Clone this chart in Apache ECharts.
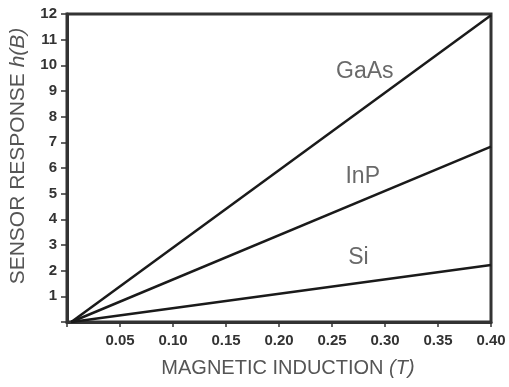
<!doctype html>
<html>
<head>
<meta charset="UTF-8">
<title>Sensor response</title>
<script src="https://cdn.jsdelivr.net/npm/echarts@6/dist/echarts.min.js"></script>
<style>
  html, body { margin: 0; padding: 0; background: #fff; }
  #chart { width: 509px; height: 387px; }
</style>
</head>
<body>
<div id="chart"></div>
<script>
// magnetic induction (T)
var fieldB = [0.004, 0.40];
// sensor response per material
var gaasVals = [0, 11.95];
var inpVals = [0, 6.83];
var siVals = [0, 2.22];
// where the material names sit (x, y in data units)
var labelNames = ['GaAs', 'InP', 'Si'];
var labelPos = [[0.281, 9.74], [0.279, 5.65], [0.275, 2.49]];

function pairs(xs, ys) {
  var out = [];
  for (var i = 0; i < xs.length; i++) out.push([xs[i], ys[i]]);
  return out;
}

var lineStyle = { color: '#1a1a1a', width: 2.5 };

var chart = echarts.init(document.getElementById('chart'));
chart.setOption({
  animation: false,
  grid: {
    left: 66, right: 18, top: 14, bottom: 65,
    show: true, borderColor: '#333', borderWidth: 3, backgroundColor: 'transparent'
  },
  xAxis: {
    type: 'value', min: 0, max: 0.4, interval: 0.05,
    name: '{n|MAGNETIC INDUCTION }{i|(T)}',
    nameLocation: 'middle', nameGap: 36,
    nameTextStyle: {
      padding: [0, 0, 0, 18],
      rich: {
        n: { fontFamily: 'Liberation Sans', fontSize: 20, color: '#555' },
        i: { fontFamily: 'Liberation Sans', fontSize: 20, color: '#555', fontStyle: 'italic' }
      }
    },
    axisLine: { lineStyle: { color: '#333', width: 3 } },
    axisTick: { show: true, length: 5, lineStyle: { color: '#333', width: 1.5 } },
    axisLabel: {
      fontFamily: 'Liberation Sans', fontSize: 15, fontWeight: 'bold', color: '#333', margin: 11,
      formatter: function (v) { return v === 0 ? '' : v.toFixed(2); }
    },
    splitLine: { show: false }
  },
  yAxis: {
    type: 'value', min: 0, max: 12, interval: 1,
    name: '{n|SENSOR RESPONSE }{i|h(B)}',
    nameLocation: 'middle', nameGap: 38, nameRotate: 90,
    nameTextStyle: {
      padding: [0, 0, 0, 24],
      rich: {
        n: { fontFamily: 'Liberation Sans', fontSize: 21, color: '#555' },
        i: { fontFamily: 'Liberation Sans', fontSize: 21, color: '#555', fontStyle: 'italic' }
      }
    },
    axisLine: { lineStyle: { color: '#333', width: 3 } },
    axisTick: { show: true, length: 6, lineStyle: { color: '#333', width: 1.5 } },
    axisLabel: {
      fontFamily: 'Liberation Sans', fontSize: 15, fontWeight: 'bold', color: '#333', margin: 10,
      formatter: function (v) { return v === 0 ? '' : String(v); }
    },
    splitLine: { show: false }
  },
  series: [
    { type: 'line', data: pairs(fieldB, gaasVals), symbol: 'none', lineStyle: lineStyle },
    { type: 'line', data: pairs(fieldB, inpVals), symbol: 'none', lineStyle: lineStyle },
    { type: 'line', data: pairs(fieldB, siVals), symbol: 'none', lineStyle: lineStyle },
    {
      type: 'scatter', symbolSize: 0,
      data: labelPos.map(function (p, i) { return { value: p, name: labelNames[i] }; }),
      label: {
        show: true, position: 'inside', formatter: '{b}',
        fontFamily: 'Liberation Sans', fontSize: 23, color: '#444'
      }
    }
  ]
});
</script>
</body>
</html>
